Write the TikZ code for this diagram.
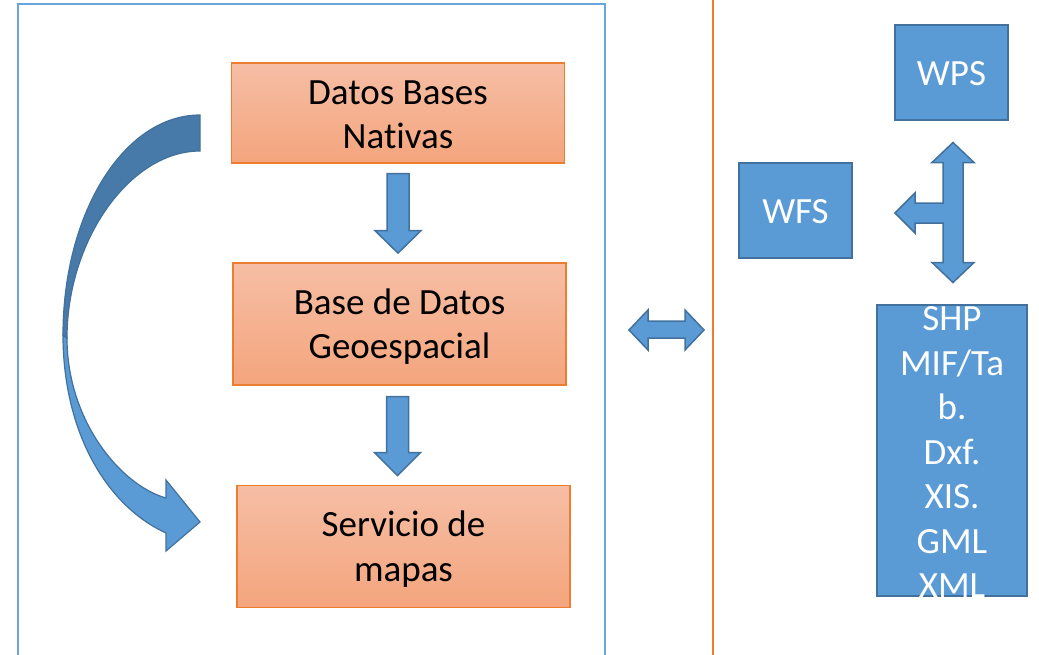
\documentclass[tikz,border=0pt]{standalone}
\usepackage{fontspec}
\setmainfont{Carlito}[Ligatures={NoCommon}]
\usetikzlibrary{calc}
\definecolor{boxblue}{HTML}{5B9BD5}
\definecolor{edgeblue}{HTML}{41719C}
\definecolor{darkblue}{HTML}{477AA8}
\definecolor{panelblue}{HTML}{6AA6DC}
\definecolor{orangeedge}{HTML}{ED7D31}
\definecolor{orangetop}{HTML}{F6BEA5}
\definecolor{orangebot}{HTML}{F4A57D}
\begin{document}
\begin{tikzpicture}[x=1pt,y=-1pt,
  txt/.style={font=\fontsize{37}{44.5}\selectfont, align=center, inner sep=0pt},
  obox/.style={draw=orangeedge, line width=1.2pt, top color=orangetop, bottom color=orangebot, rectangle, inner sep=0pt, minimum width=333pt, minimum height=122pt},
  bbox/.style={draw=edgeblue, line width=2pt, fill=boxblue, rectangle, inner sep=0pt, minimum width=113pt, minimum height=95pt},
  wtxt/.style={txt, text=white},
  barrow/.style={draw=edgeblue, line width=1.5pt, fill=boxblue, line join=miter},
  curvedark/.style={draw=edgeblue, line width=1.2pt, fill=darkblue, line join=miter},
  curvelight/.style={draw=edgeblue, line width=1.2pt, fill=boxblue, line join=miter}
]
\useasboundingbox (0,0) rectangle (1039,654);

% left panel and separator
\draw[panelblue, line width=2.8pt] (18,656) -- (18,4) -- (605,4) -- (605,656);
\draw[orangeedge, line width=2.2pt] (713,-2) -- (713,656);

% orange boxes
\node[obox, minimum height=100pt] (n1) at (398,113) {};
\node[txt] (n1t) at ($(n1.center)+(0,2)$) {Datos Bases\\Nativas};
\node[obox] (n2) at (399.5,324) {};
\node[txt] (n2t) at ($(n2.center)+(0,2.5)$) {Base de Datos\\Geoespacial};
\node[obox] (n3) at (403.5,546.5) {};
\node[txt] (n3t) at ($(n3.center)+(0,2.5)$) {Servicio de\\mapas};

% down arrows
\draw[barrow] ($(n1.south)+(-11,10)$) -- ++(22,0) -- ++(0,57) -- ++(12,0)
  -- ++(-23,22.5) -- ++(-23,-22.5) -- ++(12,0) -- cycle;
\draw[barrow] ($(n2.south)+(-13,11)$) -- ++(22,0) -- ++(0,56) -- ++(12,0)
  -- ++(-23,23) -- ++(-23,-23) -- ++(12,0) -- cycle;

% curved arrow
\draw[curvelight] (63,335) .. controls (63,430) and (105,505) .. (166,533)
  -- (166,551) -- (200,522) -- (166,480) -- (166,498)
  .. controls (120,485) and (67,420) .. (67,338) -- cycle;
\draw[curvedark] (200,115) .. controls (124,115) and (63,213) .. (63,335)
  -- (67,338) .. controls (67,240) and (130,151) .. (200,151) -- cycle;

% double arrow between panels
\coordinate (lr) at (666.5,330);
\draw[barrow] ($(lr)+(-37.5,0)$) -- ++(19,-20) -- ++(0,11) -- ++(37,0) -- ++(0,-11)
  -- ++(19,20) -- ++(-19,20) -- ++(0,-12) -- ++(-37,0) -- ++(0,12) -- cycle;

% right side boxes
\node[bbox] (wps) at (951.5,72.5) {};
\node[wtxt] (wpst) at ($(wps.center)+(0,1.5)$) {WPS};
\node[bbox] (wfs) at (795.5,210) {};
\node[wtxt] (wfst) at ($(wfs.center)+(0,1.5)$) {WFS};
\node[bbox, minimum width=150pt, minimum height=291pt] (fmt) at (952,450.5) {};
\begin{scope}
  \clip ($(fmt.north west)+(-2,-2)$) rectangle ($(fmt.south east)+(2,1)$);
  \node[wtxt] (fmttxt) at ($(fmt.center)+(0,1.5)$) {SHP\\MIF/Ta\\b.\\Dxf.\\XIS.\\GML\\XML};
\end{scope}

% three-way arrow
\coordinate (t) at (953,142.5);
\draw[barrow] (t) -- ++(21,20) -- ++(-11,0) -- ++(0,100) -- ++(11,0) -- ++(-21,20)
  -- ++(-21,-20) -- ++(11,0) -- ++(0,-39.5) -- ++(-28,0) -- ++(0,10) -- ++(-20,-20)
  -- ++(20,-20) -- ++(0,10) -- ++(28,0) -- ++(0,-40.5) -- ++(-11,0) -- cycle;
\end{tikzpicture}
\end{document}
